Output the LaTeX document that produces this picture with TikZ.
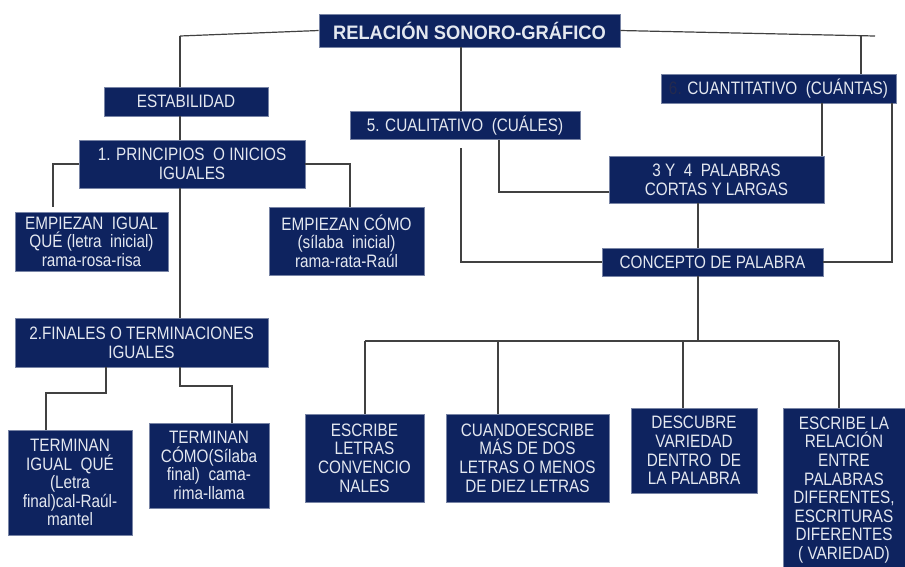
\documentclass[tikz,border=0pt]{standalone}
\usepackage{fontspec}
\setmainfont{Liberation Sans}[FakeStretch=0.85]
\newfontfamily\titulofont{Liberation Sans}[FakeStretch=0.94]
\definecolor{azul}{RGB}{14,35,95}
\definecolor{borde}{RGB}{120,132,165}
\definecolor{letra}{RGB}{228,232,240}
\definecolor{gris}{RGB}{65,65,65}
\definecolor{seis}{RGB}{36,42,78}
\tikzset{
  caja/.style={fill=azul, draw=borde, line width=0.6pt, text=letra, align=center,
    inner sep=0pt, font=\fontsize{18}{18.6}\selectfont},
  linea/.style={draw=gris, line width=1.2pt}
}
\begin{document}
\begin{tikzpicture}[x=1pt,y=-1pt]
\useasboundingbox (0,0) rectangle (905,566);

\node[caja, minimum width=301pt, minimum height=33pt, font=\titulofont\bfseries\fontsize{19.5}{20}\selectfont] (titulo) at (469.5,30.5) {RELACIÓN SONORO-GRÁFICO};
\node[caja, minimum width=164pt, minimum height=29pt] (estab) at (186,101.5) {ESTABILIDAD};
\node[caja, minimum width=235pt, minimum height=29pt] (cuant) at (778.5,88.5) {\textcolor{seis}{6.} CUANTITATIVO \ (CUÁNTAS)};
\node[caja, minimum width=230pt, minimum height=28pt] (cual) at (465,125.5) {5. CUALITATIVO \ (CUÁLES)};
\node[caja, minimum width=226pt, minimum height=48pt] (princ) at (192,164) {1. PRINCIPIOS \ O INICIOS\\IGUALES};
\node[caja, minimum width=215pt, minimum height=47pt] (tres) at (716.5,179.5) {3 Y \ 4 \ PALABRAS\\CORTAS Y LARGAS};
\node[caja, minimum width=153pt, minimum height=59pt] (eigual) at (91.5,241.5) {EMPIEZAN \ IGUAL\\QUÉ (letra \ inicial)\\rama-rosa-risa};
\node[caja, minimum width=155pt, minimum height=68pt] (ecomo) at (346.5,241) {EMPIEZAN CÓMO\\(sílaba \ inicial)\\rama-rata-Raúl};
\node[caja, minimum width=221pt, minimum height=28pt] (concepto) at (712.5,262) {CONCEPTO DE PALABRA};
\node[caja, minimum width=253pt, minimum height=49pt] (finales) at (141.5,342.5) {2.FINALES O TERMINACIONES\\IGUALES};
\node[caja, minimum width=124pt, minimum height=105pt] (tigual) at (70,482.5) {TERMINAN\\IGUAL \ QUÉ\\(Letra\\final)cal-Raúl-\\mantel};
\node[caja, minimum width=120pt, minimum height=85pt] (tcomo) at (209,465.5) {TERMINAN\\CÓMO(Sílaba\\final) \ cama-\\rima-llama};
\node[caja, minimum width=119pt, minimum height=88pt] (eletras) at (364.5,458) {ESCRIBE\\LETRAS\\CONVENCIO\\NALES};
\node[caja, minimum width=163pt, minimum height=88pt] (cuando) at (527.5,458) {CUANDOESCRIBE\\MÁS DE DOS\\LETRAS O MENOS\\DE DIEZ LETRAS};
\node[caja, minimum width=126pt, minimum height=85pt] (descubre) at (694,450.5) {DESCUBRE\\VARIEDAD\\DENTRO \ DE\\LA PALABRA};
\node[caja, minimum width=122pt, minimum height=164pt] (erel) at (844,490) {ESCRIBE LA\\RELACIÓN\\ENTRE\\PALABRAS\\DIFERENTES,\\ESCRITURAS\\DIFERENTES\\( VARIEDAD)};

\coordinate (barI) at (180,36);
\coordinate (barD) at (875,36);
\coordinate (bajaD) at (861,36);
\coordinate (pI) at (53,207);
\coordinate (pD) at (350,207);
\coordinate (fI) at (106,393);
\coordinate (fD) at (180,386);
\coordinate (cD) at (499,192);
\coordinate (cI) at (461,148);
\coordinate (hub) at (698,341);
\coordinate (bI) at (365,341);
\coordinate (bD) at (839,341);

\draw[linea] (barI) -- (titulo.west);
\draw[linea] (titulo.east) -- (barD);
\draw[linea] (barI) -- (barI |- estab.north);
\draw[linea] (titulo.south -| cI) -- (cual.north -| cI);
\draw[linea] (bajaD) -- (bajaD |- cuant.north);
\draw[linea] (barI |- estab.south) -- (barI |- princ.north);
\draw[linea] (barI |- princ.south) -- (barI |- finales.north);
\draw[linea] (princ.west) -| (pI);
\draw[linea] (princ.east) -| (pD);
\draw[linea] (finales.south -| fI) -- (fI) -| (tigual.north -| 46,0);
\draw[linea] (finales.south -| fD) -- (fD) -| (tcomo.north -| 232,0);
\draw[linea] (cual.south -| cD) -- (cD) -- (tres.west |- cD);
\draw[linea] (cI) |- (concepto.west);
\draw[linea] (cuant.south -| 822,0) -- (tres.north -| 822,0);
\draw[linea] (cuant.south -| 892,0) |- (concepto.east);
\draw[linea] (tres.south -| hub) -- (concepto.north -| hub);
\draw[linea] (concepto.south -| hub) -- (hub);
\draw[linea] (bI) -- (bD);
\draw[linea] (bI) -- (eletras.north -| bI);
\draw[linea] (hub -| 498,0) -- (cuando.north -| 498,0);
\draw[linea] (hub -| 683,0) -- (descubre.north -| 683,0);
\draw[linea] (bD) -- (erel.north -| bD);
\end{tikzpicture}
\end{document}
